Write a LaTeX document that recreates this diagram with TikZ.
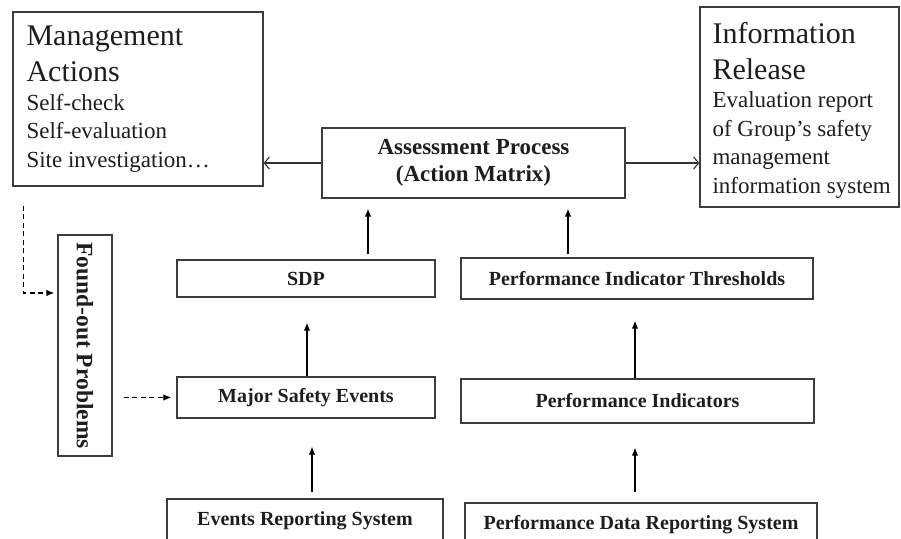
\documentclass[tikz,border=0pt]{standalone}
\usepackage{fontspec}
\setmainfont{Liberation Serif}
\usetikzlibrary{arrows.meta,calc}
\definecolor{boxc}{HTML}{3C3C3C}
\definecolor{txtc}{HTML}{1E1E1E}
\newcommand{\titlefont}{\fontsize{30}{36}\selectfont\spaceskip=0.25em\relax}
\newcommand{\subfont}{\fontsize{23}{28.5}\selectfont\spaceskip=0.25em\relax}
\begin{document}
\begin{tikzpicture}[x=1pt,y=-1pt,
  box/.style={draw=boxc, line width=1.3pt, fill=white, inner sep=0pt, text=txtc},
  lbl/.style={font=\bfseries\fontsize{20}{24}\selectfont},
  arr/.style={draw=black, line width=1.1pt, -{Latex[length=8pt,width=6.5pt]}},
  openarr/.style={draw=black!80, line width=1.1pt, -{Straight Barb[length=5pt,width=12pt]}},
  dasharr/.style={draw=black, line width=1.1pt, dash pattern=on 5pt off 3.5pt, -{Latex[length=8pt,width=6.5pt]}},
  boxtext/.style={anchor=north west, inner sep=0pt, align=left, text=txtc}
]
\useasboundingbox (0,0) rectangle (901,538);

% top boxes
\node[box, minimum width=250pt, minimum height=174pt] (mgmt) at (138,99) {};
\node[boxtext, text width=240pt] (mgmttxt) at ([xshift=14pt,yshift=-14.5pt]mgmt.north west)
  {\titlefont Management\\Actions\par
   \subfont Self-check\\Self-evaluation\\Site investigation…\par};

\node[box, minimum width=199pt, minimum height=200pt] (info) at (799.5,107) {};
\node[boxtext, text width=186pt] (infotxt) at ([xshift=13pt,yshift=-15.5pt]info.north west)
  {\titlefont Information\\Release\par
   \subfont Evaluation report\\of Group’s safety\\management\\information system\par};

\node[box, minimum width=303pt, minimum height=70pt, align=center,
      font=\bfseries\fontsize{23}{26.5}\selectfont] (assess) at (473.5,163)
  {Assessment Process\\(Action Matrix)};

% middle boxes
\node[box, lbl, minimum width=258pt, minimum height=37pt] (sdp) at (306,278.5) {SDP};
\node[box, lbl, minimum width=258pt, minimum height=41pt] (mse) at (306,397.5) {Major Safety Events};
\node[box, lbl, minimum width=352pt, minimum height=41pt] (pit) at (637,278.5) {Performance Indicator Thresholds};
\node[box, lbl, minimum width=353pt, minimum height=44pt] (pi) at (637.5,401) {Performance Indicators};
\node[box, lbl, minimum width=276pt, minimum height=44pt] (ers) at (305,521) {Events Reporting System};
\node[box, lbl, minimum width=352pt, minimum height=44pt] (pdrs) at (641,525) {Performance Data Reporting System};

\node[box, rotate=-90, minimum width=221pt, minimum height=54pt,
      font=\bfseries\fontsize{23.5}{26}\selectfont] (found) at (85,345.5) {Found-out Problems};

% horizontal open arrows
\draw[openarr] (assess.west) -- (assess.west -| mgmt.east);
\draw[openarr] (assess.east) -- (assess.east -| info.west);

% vertical arrows
\coordinate (xa) at (368,0);
\coordinate (xb) at (568,0);
\coordinate (xc) at (307,0);
\coordinate (xd) at (635,0);
\coordinate (xe) at (312,0);
\draw[arr, shorten <=5pt, shorten >=10pt] (sdp.north -| xa) -- (assess.south -| xa);
\draw[arr, shorten <=3pt, shorten >=10pt] (pit.north -| xb) -- (assess.south -| xb);
\draw[arr, shorten >=25pt] (mse.north -| xc) -- (sdp.south -| xc);
\draw[arr, shorten >=21pt] (pi.north -| xd) -- (pit.south -| xd);
\draw[arr, shorten <=6pt, shorten >=28pt] (ers.north -| xe) -- (mse.south -| xe);
\draw[arr, shorten <=10pt, shorten >=24pt] (pdrs.north -| xd) -- (pi.south -| xd);

% dashed arrows
\coordinate (d0) at ($(mgmt.south west)+(11,19)$);
\draw[dasharr, shorten >=3pt] (d0) |- ($(found.south)+(0,-52.5)$);
\draw[dasharr, shorten <=11pt, shorten >=5pt] (found.north |- mse.west) -- (mse.west);
\end{tikzpicture}
\end{document}
